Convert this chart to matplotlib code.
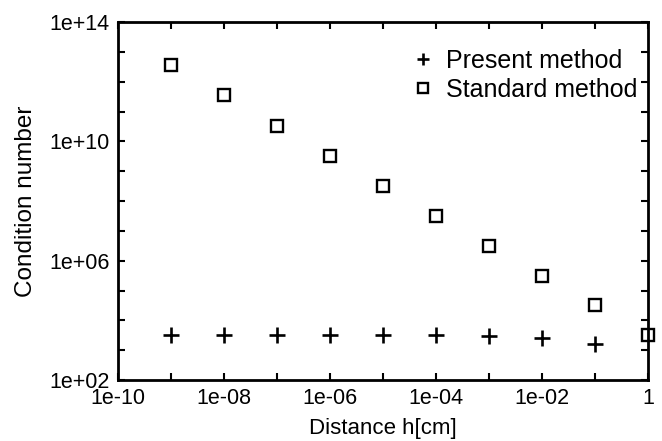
import matplotlib
matplotlib.use("Agg")
import matplotlib.pyplot as plt
from matplotlib.ticker import FixedLocator, NullFormatter

plt.rcParams['font.family'] = ['Liberation Sans', 'DejaVu Sans']

h_standard = [1e-9, 1e-8, 1e-7, 1e-6, 1e-5, 1e-4, 1e-3, 1e-2, 1e-1, 1.0]
cond_standard = [3.5e12, 3.5e11, 3.4e10, 3.2e9, 3.1e8, 3.2e7, 3.2e6, 3.2e5, 3.3e4, 3.2e3]
h_present = [1e-9, 1e-8, 1e-7, 1e-6, 1e-5, 1e-4, 1e-3, 1e-2, 1e-1]
cond_present = [3.2e3, 3.2e3, 3.2e3, 3.2e3, 3.2e3, 3.2e3, 3.1e3, 2.5e3, 1.6e3]

x_tick_vals = [1e-10, 1e-8, 1e-6, 1e-4, 1e-2, 1]
x_tick_labels = ['1e-10', '1e-08', '1e-06', '1e-04', '1e-02', '1']
y_tick_vals = [1e2, 1e6, 1e10, 1e14]
y_tick_labels = ['1e+02', '1e+06', '1e+10', '1e+14']

fig = plt.figure(figsize=(6.62, 4.41), dpi=100)
ax = fig.add_axes([0.178, 0.138, 0.801, 0.812])

ax.plot(h_present, cond_present, linestyle='none', marker='+', markersize=11,
        markeredgewidth=1.9, color='black', label='Present method', clip_on=False)
ax.plot(h_standard, cond_standard, linestyle='none', marker='s', markersize=9,
        markeredgewidth=1.7, markerfacecolor='white', markeredgecolor='black',
        label='Standard method', clip_on=False)

ax.set_xscale('log')
ax.set_yscale('log')
ax.set_xlim(1e-10, 1)
ax.set_ylim(1e2, 1e14)

ax.xaxis.set_major_locator(FixedLocator(x_tick_vals))
ax.set_xticklabels(x_tick_labels)
ax.xaxis.set_minor_locator(FixedLocator([10.0**k for k in range(-10, 1)]))
ax.xaxis.set_minor_formatter(NullFormatter())
ax.yaxis.set_major_locator(FixedLocator(y_tick_vals))
ax.set_yticklabels(y_tick_labels)
ax.yaxis.set_minor_locator(FixedLocator([10.0**k for k in range(2, 15)]))
ax.yaxis.set_minor_formatter(NullFormatter())

ax.tick_params(which='both', direction='in', top=True, right=True, width=1.5, length=5)
ax.tick_params(which='major', labelsize=15.5, pad=6)
for s in ax.spines.values():
    s.set_linewidth(2)

ax.set_xlabel('Distance h[cm]', fontsize=16, labelpad=6)
ax.set_ylabel('Condition number', fontsize=17.5, labelpad=9)

leg = ax.legend(loc='upper right', bbox_to_anchor=(0.99, 0.94), frameon=False,
                fontsize=18, handlelength=0.5, handletextpad=0.7,
                labelspacing=0.22, borderpad=0, borderaxespad=0.2, markerscale=0.8)

fig.savefig('out.png', dpi=100)
